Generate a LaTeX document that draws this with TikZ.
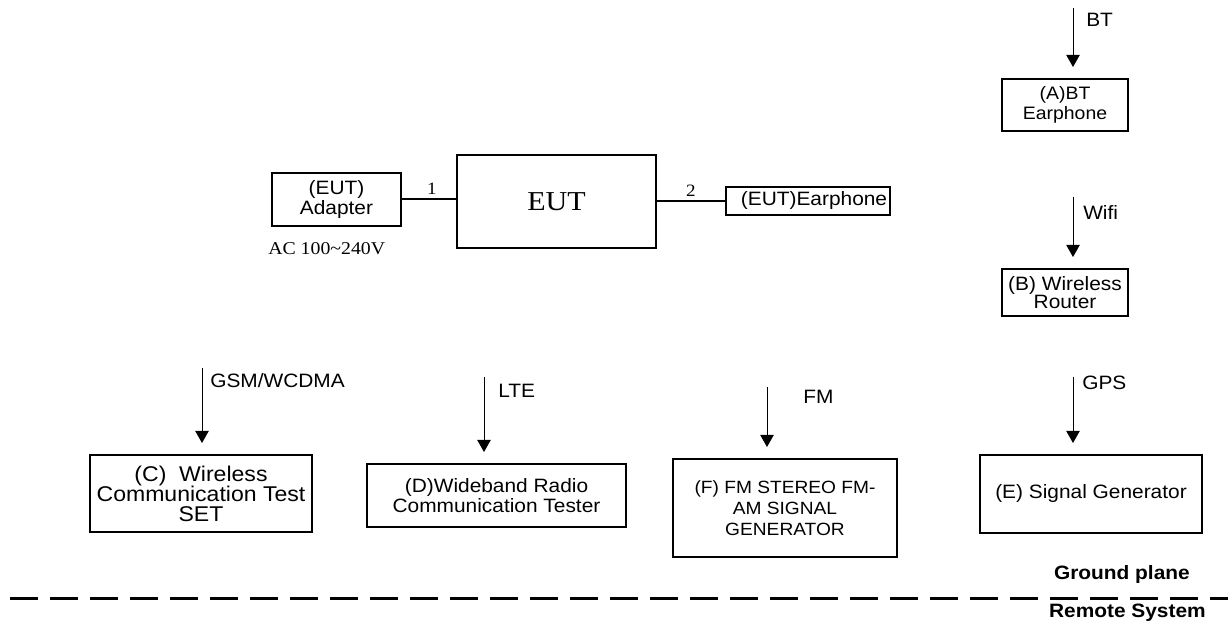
\documentclass[tikz,border=0pt]{standalone}
\usepackage{fontspec}
\setmainfont{Liberation Serif}[FakeStretch=1.1]
\newfontfamily\arialfont{Liberation Sans}[FakeStretch=1.08]
\usetikzlibrary{arrows.meta}
\tikzset{
  box/.style={draw, line width=1.5pt, inner sep=0pt, align=center,
    font=\arialfont\fontsize{14.5}{15.5}\selectfont},
  lbl/.style={inner sep=0pt, anchor=west, font=\arialfont\fontsize{14.5}{15.5}\selectfont},
  sig/.style={line width=0.75pt, -{Triangle[length=9pt,width=10pt]}, shorten >=8.25pt},
  wire/.style={line width=1.5pt},
  gnd/.style={inner sep=0pt, anchor=east, font=\arialfont\bfseries\fontsize{14.5}{16}\selectfont}
}
\begin{document}
\begin{tikzpicture}[x=0.75pt,y=0.75pt,yscale=-1,xscale=1]
\useasboundingbox (0,0) rectangle (1228,623);

%Shape: Rectangle
\node [box, minimum width=96.75pt, minimum height=39.75pt] (adapter) at (336.5,199.5) {(EUT)\\Adapter};
%Shape: Rectangle
\node [box, minimum width=149.25pt, minimum height=69.75pt, font=\fontsize{20.5}{22}\selectfont] (eut) at (556.5,201.5) {EUT};
%Shape: Rectangle
\node [box, minimum width=123pt, minimum height=21pt] (earph) at (808,201) {\hspace*{9pt}(EUT)Earphone};
%Shape: Rectangle
\node [box, minimum width=94.5pt, minimum height=39pt, font=\arialfont\fontsize{13.5}{15}\selectfont] (bt) at (1065,105) {(A)BT\\Earphone};
%Shape: Rectangle
\node [box, minimum width=94.5pt, minimum height=35.25pt, font=\arialfont\fontsize{14.5}{14}\selectfont] (router) at (1065,292.5) {(B) Wireless\\Router};
%Shape: Rectangle
\node [box, minimum width=166.5pt, minimum height=57.75pt, font=\arialfont\fontsize{16}{15}\selectfont] (wct) at (201,493.5) {(C)~ Wireless\\Communication Test\\SET};
%Shape: Rectangle
\node [box, minimum width=194.25pt, minimum height=47.25pt] (wrct) at (496.5,495.5) {(D)Wideband Radio\\Communication Tester};
%Shape: Rectangle
\node [box, minimum width=168pt, minimum height=73.5pt, font=\arialfont\fontsize{13.3}{16}\selectfont] (fmgen) at (785,508) {(F) FM STEREO FM-\\AM SIGNAL\\GENERATOR};
%Shape: Rectangle
\node [box, minimum width=166.5pt, minimum height=58.5pt] (siggen) at (1091,494) {(E) Signal Generator};

%Straight Lines
\draw [wire] (adapter.east) -- (eut.west |- adapter.east) ;
\draw [wire] (eut.east |- earph.west) -- (earph.west) ;

%Straight Lines
\coordinate (btin) at (1073,8);
\coordinate (wifiin) at (1073,197);
\coordinate (gsmin) at (202,368);
\coordinate (ltein) at (484,377);
\coordinate (fmin) at (767,387);
\coordinate (gpsin) at (1073,377);
\draw [sig] (btin) -- (btin |- bt.north) ;
\draw [sig] (wifiin) -- (wifiin |- router.north) ;
\draw [sig] (gsmin) -- (gsmin |- wct.north) ;
\draw [sig] (ltein) -- (ltein |- wrct.north) ;
\draw [sig] (fmin) -- (fmin |- fmgen.north) ;
\draw [sig] (gpsin) -- (gpsin |- siggen.north) ;

% Text Node
\node [lbl] (btlbl) at (1086,20) {BT};
\node [lbl] (wifilbl) at (1083,212) {Wifi};
\node [lbl] (gsmlbl) at (210,381) {GSM/WCDMA};
\node [lbl] (ltelbl) at (498,391) {LTE};
\node [lbl] (fmlbl) at (803,397) {FM};
\node [lbl] (gpslbl) at (1082,383) {GPS};

% Text Node
\node [inner sep=0pt, font=\fontsize{13}{14}\selectfont] (one) at (432,189) {1};
\node [inner sep=0pt, font=\fontsize{13}{14}\selectfont] (two) at (691,191) {2};
\node [inner sep=0pt, anchor=west, font=\fontsize{13.5}{15}\selectfont] (ac) at (268,249) {AC 100\textasciitilde240V};

%Straight Lines
\coordinate (gleft) at (10,598);
\coordinate (gright) at (1228,598);
\draw [line width=2.25pt, dash pattern=on 21pt off 9pt] (gleft) -- (gright) ;

% Text Node
\node [gnd] (gplane) at (1190,575) {Ground plane};
\node [gnd] (remote) at (1206,613) {Remote System};

\end{tikzpicture}
\end{document}
